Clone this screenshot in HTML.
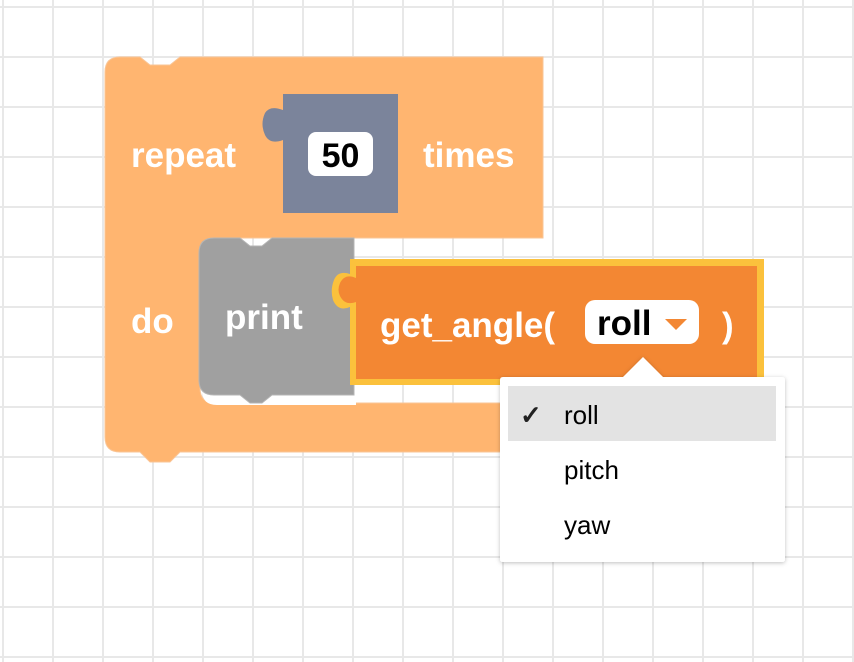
<!DOCTYPE html>
<html><head><meta charset="utf-8"><style>
html,body{margin:0;padding:0;width:854px;height:662px;overflow:hidden;background:#fff}
body{background-image:linear-gradient(#e8e8e8 2px,transparent 2px),linear-gradient(90deg,#e8e8e8 2px,transparent 2px);background-size:50px 50px;background-position:2px 6px}
svg{position:absolute;left:0;top:0}
text{font-family:"Liberation Sans",sans-serif;font-weight:bold}
</style></head><body>
<svg width="854" height="662" viewBox="0 0 854 662">
<path d="M105,72 Q105,57 120,57 H140 L150,65 H170 L180,57 H543 V238 H215 Q200,238 200,253 V388 Q200,403 215,403 H543 V452 H180 L170,462 H150 L140,452 H120 Q105,452 105,437 Z" fill="#ffb570" stroke="#f9c596" stroke-width="1"/>
<path d="M283,94 H398 V213 H283 V140 Q270,145 265,135 Q260,124 265,113 Q270,105 283,110 Z" fill="#7b849b"/>
<rect x="308" y="132" width="65" height="44" rx="8" fill="#fff"/>
<text x="340.5" y="167" font-size="34" text-anchor="middle" fill="#000">50</text>
<text x="131" y="167" font-size="35" fill="#fff">repeat</text>
<text x="423" y="167" font-size="35" fill="#fff">times</text>
<text x="131" y="333" font-size="35" fill="#fff">do</text>
<path d="M202,300 V390 Q202,405 217,405 H356 V300 Z" fill="#fff"/>
<path d="M214,238 H240 L250,246 H262 L272,238 H354 V395 H272 L262,403 H250 L240,395 H214 Q199,395 199,380 V253 Q199,238 214,238 Z" fill="#a0a0a0" stroke="#b5b5b5" stroke-width="1"/>
<text x="225" y="329" font-size="35" fill="#fff">print</text>
<path d="M350,259 H764 V385 H350 V307 Q338,312 333,300 Q330,290 334,280 Q338,270 350,274 Z" fill="#fbc13c"/>
<path d="M356,266 H757 V379 H356 V302 Q345,306 340,296 Q337,290 340,283 Q345,273 356,278 Z" fill="#f38733"/>
<text x="380" y="337" font-size="35" fill="#fff">get_angle(</text>
<rect x="585" y="300" width="114" height="44" rx="10" fill="#fff"/>
<text x="597" y="335" font-size="35" fill="#000">roll</text>
<path d="M665,319 H687 L676,330 Z" fill="#f38733"/>
<text x="722" y="337" font-size="35" fill="#fff">)</text>
<defs><filter id="sh" x="-10%" y="-10%" width="120%" height="130%"><feDropShadow dx="0" dy="1" stdDeviation="2" flood-color="#000" flood-opacity="0.25"/></filter></defs>
<g filter="url(#sh)">
<path d="M500,380 Q500,377 503,377 H623 L643,357 L663,377 H782 Q785,377 785,380 V559 Q785,562 782,562 H503 Q500,562 500,559 Z" fill="#fff"/>
</g>
<rect x="508" y="386" width="268" height="55" fill="#e3e3e3"/>
<text x="520" y="424" font-size="26" style="font-weight:bold" fill="#222">✓</text>
<text x="564" y="424" font-size="26" style="font-weight:normal" fill="#000">roll</text>
<text x="564" y="479" font-size="26" style="font-weight:normal" fill="#000">pitch</text>
<text x="564" y="534" font-size="26" style="font-weight:normal" fill="#000">yaw</text>
</svg>
</body></html>
